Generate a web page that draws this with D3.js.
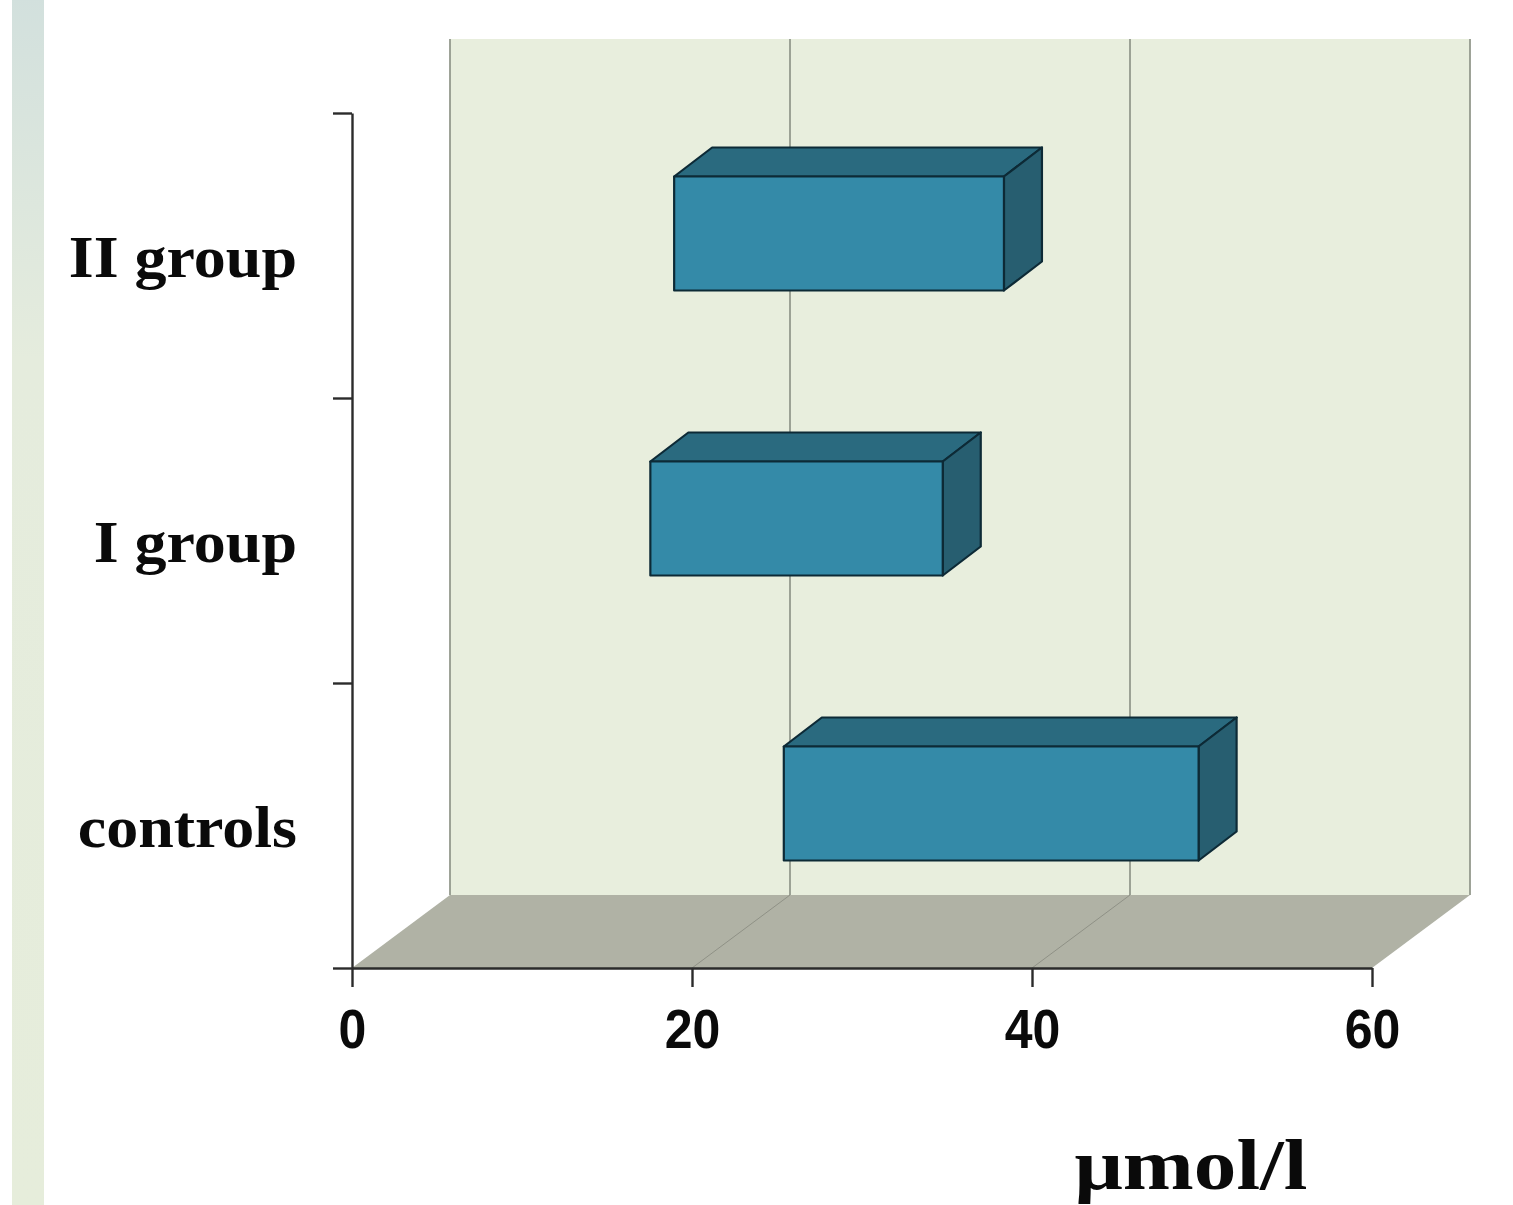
<!DOCTYPE html>
<html>
<head>
<meta charset="utf-8">
<script src="https://cdn.jsdelivr.net/npm/d3@7"></script>
<style>
  html, body { margin: 0; padding: 0; background: #fff; overflow: hidden; }
  svg { display: block; filter: blur(0.6px); }
  .domain, .tick line { stroke: #2b2b2b; stroke-width: 2.4; }
</style>
</head>
<body>
<div class="chart"></div>
<script>
// values
const categories = ['controls', 'I group', 'II group'];
const rangeLow = [25.4, 17.55, 18.95];
const rangeHigh = [49.8, 34.75, 38.35];
const xTicks = [0, 20, 40, 60];
const unit = 'μmol/l';

const width = 1513, height = 1205;
const depthX = 98, depthY = 73;          // chart box depth
const barDepthX = 38, barDepthY = 29;    // bar depth
const barHeight = 114;

const svg = d3.select('.chart').append('svg').attr('width', width).attr('height', height);

const x = d3.scaleLinear().domain([0, 60]).range([352, 1372]);
const y = d3.scaleBand().domain(categories).range([968, 113]);
const yEdge = d3.scaleLinear().domain([0, categories.length]).range([968, 113]);

// strip on the left
const grad = svg.append('defs').append('linearGradient')
    .attr('id', 'strip').attr('x1', 0).attr('x2', 0).attr('y1', 0).attr('y2', 1);
grad.append('stop').attr('offset', '0%').attr('stop-color', '#d2e0dd');
grad.append('stop').attr('offset', '30%').attr('stop-color', '#e5ecdd');
grad.append('stop').attr('offset', '100%').attr('stop-color', '#e6eddb');
svg.append('rect').attr('x', 12).attr('y', -5).attr('width', 32).attr('height', height + 10).attr('fill', 'url(#strip)');

// back wall and floor
const wallTop = 39, floorY = 968;
svg.append('rect')
    .attr('x', x(0) + depthX).attr('y', wallTop)
    .attr('width', x(60) - x(0)).attr('height', floorY - depthY - wallTop)
    .attr('fill', '#e8eedd');
svg.append('polygon')
    .attr('points', [[x(0), floorY], [x(60), floorY], [x(60) + depthX, floorY - depthY], [x(0) + depthX, floorY - depthY]].join(' '))
    .attr('fill', '#b0b2a5');

// grid lines, wall + floor
svg.selectAll('.grid').data(xTicks).enter().append('line')
    .attr('class', 'grid')
    .attr('x1', (d) => x(d) + depthX).attr('y1', wallTop)
    .attr('x2', (d) => x(d) + depthX).attr('y2', floorY - depthY)
    .attr('stroke', '#94998d').attr('stroke-width', 1.8);
svg.selectAll('.gridf').data(xTicks.slice(1, 3)).enter().append('line')
    .attr('class', 'gridf')
    .attr('x1', (d) => x(d)).attr('y1', floorY)
    .attr('x2', (d) => x(d) + depthX).attr('y2', floorY - depthY)
    .attr('stroke', '#8f9186').attr('stroke-width', 1);

// bars
const bars = svg.selectAll('.bar').data(categories).enter().append('g').attr('class', 'bar')
    .attr('stroke', '#0d2a36').attr('stroke-width', 2.2).attr('stroke-linejoin', 'round');
const barTop = (d) => y(d) + y.bandwidth() / 2 - 22 - barHeight / 2;
bars.append('polygon').attr('fill', '#2a6a7f')
    .attr('points', (d, i) => {
        const t = barTop(d);
        return [[x(rangeLow[i]), t], [x(rangeHigh[i]), t],
                [x(rangeHigh[i]) + barDepthX, t - barDepthY], [x(rangeLow[i]) + barDepthX, t - barDepthY]].join(' ');
    });
bars.append('polygon').attr('fill', '#275e70')
    .attr('points', (d, i) => {
        const t = barTop(d);
        return [[x(rangeHigh[i]), t], [x(rangeHigh[i]) + barDepthX, t - barDepthY],
                [x(rangeHigh[i]) + barDepthX, t - barDepthY + barHeight], [x(rangeHigh[i]), t + barHeight]].join(' ');
    });
bars.append('rect').attr('fill', '#348aa8')
    .attr('x', (d, i) => x(rangeLow[i])).attr('y', barTop)
    .attr('width', (d, i) => x(rangeHigh[i]) - x(rangeLow[i])).attr('height', barHeight);

// axes
const xAxis = svg.append('g').attr('transform', `translate(0,${floorY})`)
    .call(d3.axisBottom(x).tickValues(xTicks).tickSize(19).tickSizeOuter(0));
xAxis.selectAll('text')
    .attr('y', 0).attr('dy', 0)
    .attr('transform', 'translate(0,80) scale(1,1.11)')
    .attr('font-family', '"Liberation Sans"').attr('font-weight', 'bold')
    .attr('font-size', 50).attr('fill', '#0a0a0a');

svg.append('g').attr('transform', `translate(${x(0)},0)`)
    .call(d3.axisLeft(yEdge).ticks(categories.length).tickSize(19).tickSizeOuter(0).tickFormat(''));

svg.selectAll('.cat').data(categories).enter().append('text')
    .attr('class', 'cat')
    .attr('transform', (d) => `translate(297,${y(d) + y.bandwidth() / 2 + 21}) scale(1.085,1)`)
    .attr('text-anchor', 'end')
    .attr('font-family', '"Liberation Serif"').attr('font-weight', 'bold')
    .attr('font-size', 59).attr('fill', '#0a0a0a')
    .text((d) => d);

svg.append('text')
    .attr('transform', 'translate(1191,1189) scale(1.2,1)')
    .attr('text-anchor', 'middle')
    .attr('font-family', '"Liberation Serif"').attr('font-weight', 'bold')
    .attr('font-size', 71).attr('fill', '#0a0a0a')
    .text(unit);
</script>
</body>
</html>
